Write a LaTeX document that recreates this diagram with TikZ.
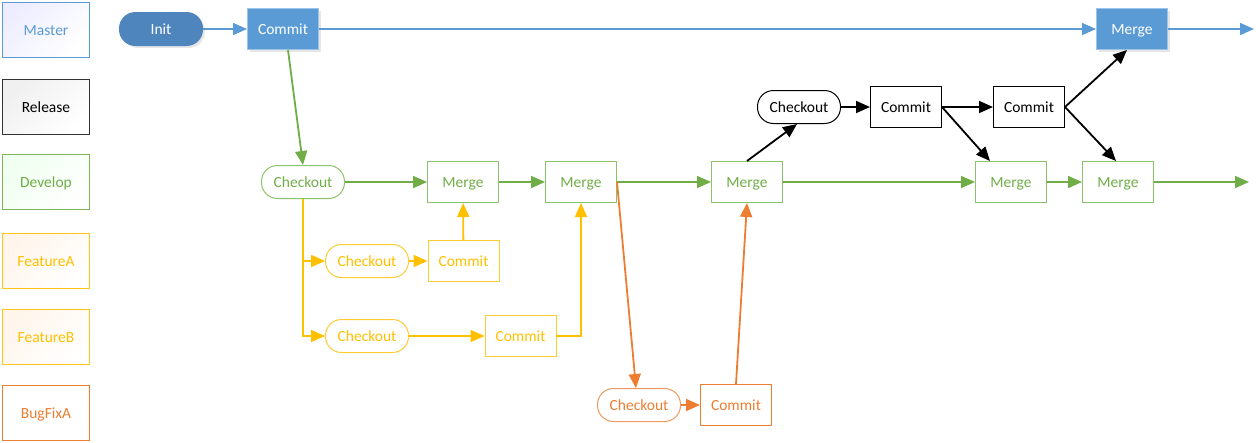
\documentclass[tikz,border=0pt]{standalone}
\usepackage{fontspec}
\setmainfont{Carlito}
\usepackage{tikz}
\usetikzlibrary{arrows.meta,shadows}

\definecolor{mblue}{HTML}{5B9BD5}
\definecolor{iblue}{HTML}{4E85BD}
\definecolor{dgreen}{HTML}{70AD47}
\definecolor{lgreen}{HTML}{8CC36A}
\definecolor{fyellow}{HTML}{FFC000}
\definecolor{lyellow}{HTML}{FFCC33}
\definecolor{borange}{HTML}{ED7D31}
\definecolor{lorange}{HTML}{F19A60}

\tikzset{
  box/.style={draw, rectangle, minimum width=71pt, minimum height=41pt, line width=1pt,
    text height=11.5pt, text depth=0pt, font=\fontsize{15.5}{18}\selectfont},
  pill/.style={draw, rectangle, rounded corners=16pt, minimum width=83pt, minimum height=33pt,
    line width=1pt, text height=11.5pt, text depth=0pt, font=\fontsize{15.5}{18}\selectfont},
  legend/.style={draw, rectangle, minimum width=87pt, minimum height=55pt, line width=1pt,
    text height=11.5pt, text depth=0pt, font=\fontsize{15.5}{18}\selectfont},
  tint/.style={top color=#1, bottom color=white, shading angle=45},
  tip/.style={-{Triangle[length=14pt,width=12pt]}, line width=1.8pt},
}

\begin{document}
\begin{tikzpicture}[x=1pt, y=-1pt]
      \useasboundingbox (0,0) rectangle (1256,442);
      %% legend
      \node [legend, draw=mblue, text=mblue, tint=blue!7] (lmaster) at (46,29.5) {Master};
      \node [legend, draw=black!80, text=black, tint=gray!12] (lrelease) at (46,107) {Release};
      \node [legend, draw=dgreen!90, text=dgreen, tint=green!6] (ldevelop) at (46,182) {Develop};
      \node [legend, draw=fyellow!90, text=fyellow, tint=orange!8] (lfeaturea) at (46,261) {FeatureA};
      \node [legend, draw=fyellow!90, text=fyellow, tint=orange!8] (lfeatureb) at (46,336.5) {FeatureB};
      \node [legend, draw=borange, text=borange, fill=white] (lbugfix) at (46,413) {BugFixA};
      %% master
      \node [pill, draw=iblue, fill=iblue, text=white, drop shadow={opacity=0.2}] (init) at (161,29) {Init};
      \node [box, draw=mblue!60, fill=mblue, text=white, drop shadow={opacity=0.2}] (mcommit) at (283,29) {Commit};
      \node [box, draw=mblue!60, fill=mblue, text=white, drop shadow={opacity=0.2}] (mmerge) at (1132,29) {Merge};
      \coordinate (mend) at (1254,29);
      %% release
      \node [pill, draw=black, text=black] (rcheck) at (799,107) {Checkout};
      \node [box, draw=black, text=black] (rcommit1) at (906,107) {Commit};
      \node [box, draw=black, text=black] (rcommit2) at (1029,107) {Commit};
      %% develop
      \node [pill, draw=lgreen, text=dgreen] (dcheck) at (303,182) {Checkout};
      \node [box, draw=lgreen, text=dgreen] (dmerge1) at (463,182) {Merge};
      \node [box, draw=lgreen, text=dgreen] (dmerge2) at (581,182) {Merge};
      \node [box, draw=lgreen, text=dgreen] (dmerge3) at (747,182) {Merge};
      \node [box, draw=lgreen, text=dgreen] (dmerge4) at (1011,182) {Merge};
      \node [box, draw=lgreen, text=dgreen] (dmerge5) at (1118,182) {Merge};
      \coordinate (dend) at (1249,182);
      %% features
      \node [pill, draw=lyellow, text=fyellow] (facheck) at (367,261) {Checkout};
      \node [box, draw=lyellow, text=fyellow] (facommit) at (463.5,261) {Commit};
      \node [pill, draw=lyellow, text=fyellow] (fbcheck) at (367,336) {Checkout};
      \node [box, draw=lyellow, text=fyellow] (fbcommit) at (520.5,336) {Commit};
      %% bugfix
      \node [pill, draw=lorange, text=borange] (bcheck) at (639,405) {Checkout};
      \node [box, draw=borange, text=borange] (bcommit) at (736,405) {Commit};
      %% arrows
      \draw [tip, mblue, line width=1.5pt] (init) -- (mcommit);
      \draw [tip, mblue, line width=1.5pt] (mcommit) -- (mmerge);
      \draw [tip, mblue, line width=1.5pt] (mmerge) -- (mend);
      \draw [tip, dgreen] ([xshift=5pt]mcommit.south) -- (dcheck.north);
      \draw [tip, dgreen] (dcheck) -- (dmerge1);
      \draw [tip, dgreen] (dmerge1) -- (dmerge2);
      \draw [tip, dgreen] (dmerge2) -- (dmerge3);
      \draw [tip, dgreen] (dmerge3) -- (dmerge4);
      \draw [tip, dgreen] (dmerge4) -- (dmerge5);
      \draw [tip, dgreen] (dmerge5) -- (dend);
      \draw [tip, fyellow] (dcheck.south) |- (facheck.west);
      \draw [tip, fyellow] (dcheck.south) |- (fbcheck.west);
      \draw [tip, fyellow] (facheck) -- (facommit);
      \draw [tip, fyellow] (facommit) -- (dmerge1);
      \draw [tip, fyellow] (fbcheck) -- (fbcommit);
      \draw [tip, fyellow] (fbcommit.east) -| (dmerge2.south);
      \draw [tip, borange] (dmerge2.east) -- ([xshift=-3pt]bcheck.north);
      \draw [tip, borange] (bcheck) -- (bcommit);
      \draw [tip, borange] (bcommit.north) -- (dmerge3.south);
      \draw [tip, black] (dmerge3.north) -- ([xshift=-2pt]rcheck.south);
      \draw [tip, black] (rcheck) -- (rcommit1);
      \draw [tip, black] (rcommit1) -- (rcommit2);
      \draw [tip, black] (rcommit1.east) -- ([xshift=-21pt]dmerge4.north);
      \draw [tip, black] (rcommit2.east) -- ([xshift=-5pt]mmerge.south);
      \draw [tip, black] (rcommit2.east) -- ([xshift=-2pt]dmerge5.north);
    \end{tikzpicture}
\end{document}
